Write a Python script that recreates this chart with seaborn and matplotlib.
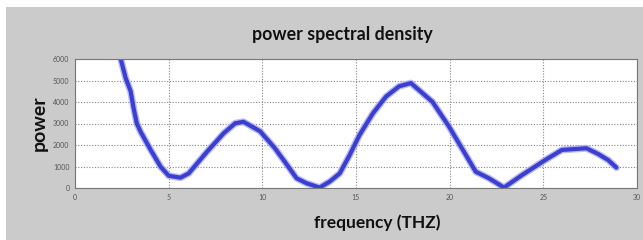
import matplotlib
matplotlib.use("Agg")
import matplotlib.pyplot as plt
import seaborn as sns
import pandas as pd
from matplotlib.patches import Rectangle

freq = [2.44, 2.71, 2.97, 3.12, 3.3, 3.5, 4.04, 4.57, 5.0, 5.63, 6.07, 7.05, 7.93, 8.55, 8.99,
        9.88, 10.67, 11.2, 11.83, 12.36, 13.06, 13.6, 14.13, 14.66, 15.19, 15.9, 16.6,
        17.3, 17.93, 19.08, 19.97, 21.39, 22.1, 22.9, 23.86, 25.1, 25.99, 27.3, 27.93,
        28.46, 28.9]
power = [6000, 5100, 4500, 3750, 3000, 2620, 1770, 990, 570, 480, 680, 1690, 2540, 3010, 3080,
         2640, 1850, 1220, 450, 220, 20, 300, 680, 1530, 2470, 3470, 4250,
         4730, 4880, 4010, 2850, 760, 450, 20, 600, 1300, 1770, 1850, 1580,
         1300, 950]
xticks = [0, 5, 10, 15, 20, 25, 30]
yticks = [0, 1000, 2000, 3000, 4000, 5000, 6000]

df = pd.DataFrame({"frequency": freq, "power": power})

sns.set_style("white")
plt.rcParams["font.family"] = ["Lato", "DejaVu Sans"]

fig = plt.figure(figsize=(6.43, 2.4), dpi=100, facecolor="white")
fig.patches.append(Rectangle((6 / 643, 0), 1, (240 - 7) / 240, transform=fig.transFigure,
                             facecolor="#cbcbcb", edgecolor="none", zorder=-5))
ax = fig.add_axes([75 / 643, 1 - 188 / 240, (637 - 75) / 643, (188 - 59) / 240])
ax.set_zorder(2)
ax.set_facecolor("white")

sns.lineplot(data=df, x="frequency", y="power", ax=ax, color="#a9aaf2", linewidth=5,
             alpha=0.8, sort=False)
sns.lineplot(data=df, x="frequency", y="power", ax=ax, color="#3a3fd0", linewidth=3.0,
             sort=False, solid_capstyle="round", solid_joinstyle="round")

ax.set_xlim(0, 30)
ax.set_ylim(0, 6000)
ax.set_xticks(xticks)
ax.set_yticks(yticks)
ax.set_xticklabels([str(v) for v in xticks])
ax.set_yticklabels([str(v) for v in yticks])
ax.tick_params(axis="both", labelsize=5, colors="#555555", length=2, width=0.6, pad=2)
ax.grid(True, linestyle=(0, (1, 1.5)), color="#888888", linewidth=0.8)
for s in ax.spines.values():
    s.set_color("#777777")
    s.set_linewidth(0.8)

ax.set_title("power spectral density", fontsize=12.8, fontweight="bold", pad=14,
             color="#111111", x=0.475)
ax.set_xlabel("frequency (THZ)", fontsize=12.5, fontweight="bold", labelpad=10,
              color="#111111", x=0.537)
ax.set_ylabel("power", fontsize=14, fontweight="bold", labelpad=4, color="#111111")

fig.savefig("out.png", dpi=100, facecolor=fig.get_facecolor())
